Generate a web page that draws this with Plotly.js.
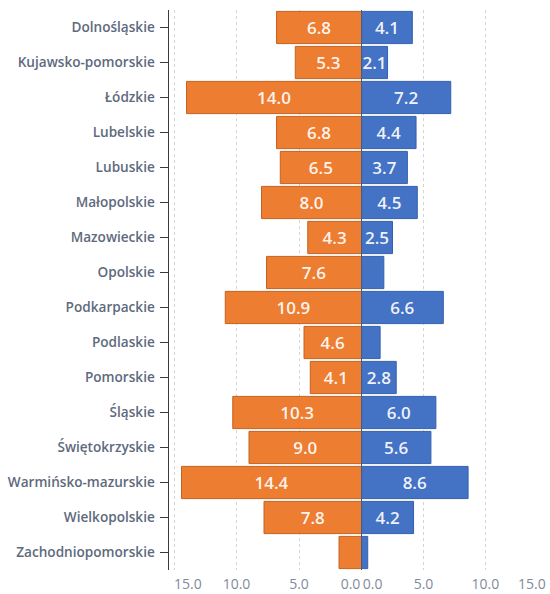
<!DOCTYPE html>
<html>
<head>
<meta charset="utf-8">
<script src="https://cdn.plot.ly/plotly-3.0.1.min.js"></script>
<style>html,body{margin:0;padding:0;background:#fff;}#chart{width:550px;height:594px;}</style>
</head>
<body>
<div id="chart"></div>
<script>
var regions = ["Dolnośląskie","Kujawsko-pomorskie","Łódzkie","Lubelskie","Lubuskie","Małopolskie","Mazowieckie","Opolskie","Podkarpackie","Podlaskie","Pomorskie","Śląskie","Świętokrzyskie","Warmińsko-mazurskie","Wielkopolskie","Zachodniopomorskie"];
var leftValues = [6.8,5.3,14.0,6.8,6.5,8.0,4.3,7.6,10.9,4.6,4.1,10.3,9.0,14.4,7.8,1.8];
var rightValues = [4.1,2.1,7.2,4.4,3.7,4.5,2.5,1.8,6.6,1.5,2.8,6.0,5.6,8.6,4.2,0.5];
var tickVals = [0,5,10,15];
var leftTickLabels = ["0.0\u2009\u2007\u2008\u2007","5.0","10.0","\u2007\u2007\u2008\u200715.0"];
var rightTickLabels = ["\u2007\u2008\u2007\u20090.0","5.0","10.0",""];
var rightEdgeLabel = "15.0";
var minLabelValue = 2.0; // bars narrower than this carry no label in the reference

function labels(vals){ return vals.map(function(v){ return v >= minLabelValue ? v.toFixed(1) : ""; }); }

var FONT = "'Open Sans', Lato, sans-serif";
var textFont = {family:FONT, size:17, color:"rgba(255,255,255,0.93)", weight:600};
var tickFont = {family:FONT, size:14, color:"#7f8a9b"};

var traces = [
  {type:"bar", orientation:"h", y:regions, x:leftValues, xaxis:"x", yaxis:"y",
   marker:{color:"#ED7D31", line:{color:"#c4621f", width:1}},
   text:labels(leftValues), textposition:"inside", insidetextanchor:"middle", textangle:0,
   textfont:textFont, hoverinfo:"none", showlegend:false, cliponaxis:false},
  {type:"bar", orientation:"h", y:regions, x:rightValues, xaxis:"x2", yaxis:"y",
   marker:{color:"#4472C4", line:{color:"#3460ad", width:1}},
   text:labels(rightValues), textposition:"inside", insidetextanchor:"middle", textangle:0,
   textfont:textFont, hoverinfo:"none", showlegend:false, cliponaxis:false}
];

var xcommon = {
  tickmode:"array", tickvals:tickVals, showgrid:true, gridcolor:"#d4d4d4", griddash:"dot", gridwidth:1,
  zeroline:true, zerolinecolor:"#555555", zerolinewidth:1, layer:"above traces",
  tickfont:tickFont, ticks:"", showline:false, fixedrange:true,
  ticklabeloverflow:"allow", ticklabelstandoff:4
};

var layout = {
  width:550, height:594,
  margin:{l:169, r:2, t:10, b:24},
  paper_bgcolor:"#ffffff", plot_bgcolor:"#ffffff",
  bargap:0.08,
  uniformtext:{mode:"show", minsize:17},
  xaxis:Object.assign({}, xcommon, {domain:[0,0.508], range:[15.4,0], anchor:"y", ticktext:leftTickLabels}),
  xaxis2:Object.assign({}, xcommon, {domain:[0.508,1], range:[0,15.05], anchor:"y", ticktext:rightTickLabels}),
  yaxis:{anchor:"x", autorange:"reversed", showline:true, linecolor:"#3a3a3a", linewidth:1.5,
    ticks:"outside", ticklen:8, tickcolor:"#3a3a3a", tickwidth:1, ticklabelstandoff:2,
    tickfont:{family:FONT, size:13.6, color:"#5e6a7d", weight:600},
    showgrid:false, zeroline:false, fixedrange:true},
  annotations:[{xref:"x2", yref:"paper", x:tickVals[3], y:0, xanchor:"right", yanchor:"top",
    yshift:-3, text:rightEdgeLabel, showarrow:false, font:tickFont, borderpad:0}]
};

Plotly.newPlot("chart", traces, layout, {displayModeBar:false, staticPlot:true});
</script>
</body>
</html>
